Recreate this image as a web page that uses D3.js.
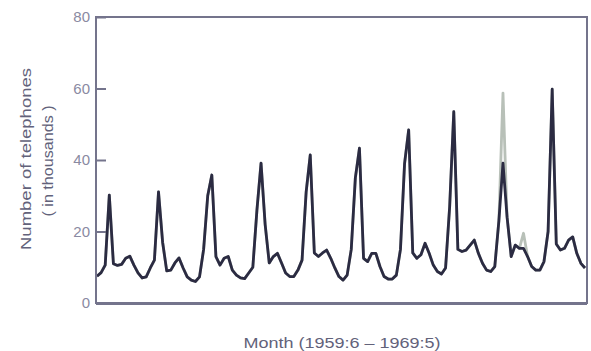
<!DOCTYPE html>
<html>
<head>
<meta charset="utf-8">
<script src="https://cdn.jsdelivr.net/npm/d3@7"></script>
<style>
    body { margin: 0; background: #fff; }
    svg { display: block; font-family: "Liberation Sans", Arial, sans-serif; }
    .frame { fill: none; stroke: #74748c; stroke-width: 2; }
    .tick text { fill: #8a8aa2; font-size: 15px; }
    .tick line { stroke: #74748c; stroke-width: 2; }
    .title { fill: #62627a; }
</style>
</head>
<body>
<svg id="chart" width="591" height="351"></svg>
<script>
"use strict";

// months 1959:6 .. 1969:5 (index 0..119)
var monthCount = 120;

// adjusted series (dark)
var adjusted = [
    7.5, 8.5, 10.6, 30.2, 11.0, 10.5, 10.8, 12.5, 13.1, 10.6, 8.4, 7.0,
    7.3, 9.8, 12.0, 31.1, 17.0, 9.0, 9.2, 11.2, 12.6, 9.8, 7.3, 6.4,
    6.0, 7.3, 15.0, 30.0, 35.8, 13.0, 10.6, 12.5, 13.0, 9.2, 7.8, 7.0,
    6.8, 8.4, 10.0, 26.0, 39.1, 22.0, 11.2, 13.0, 13.9, 11.2, 8.4, 7.4,
    7.4, 9.2, 12.0, 31.0, 41.4, 14.0, 13.0, 14.0, 14.8, 12.5, 9.8, 7.4,
    6.4, 7.8, 15.0, 35.0, 43.3, 12.5, 11.6, 13.9, 13.9, 10.2, 7.4, 6.7,
    6.7, 7.8, 15.0, 39.0, 48.4, 14.0, 12.5, 13.5, 16.7, 13.9, 10.6, 8.8,
    8.1, 9.8, 27.0, 53.5, 15.0, 14.4, 14.8, 16.2, 17.6, 13.9, 11.1, 9.2,
    8.8, 10.2, 23.0, 39.1, 24.0, 13.0, 16.2, 15.3, 15.3, 13.0, 10.2, 9.2,
    9.2, 11.6, 20.0, 59.8, 16.5, 14.8, 15.3, 17.6, 18.5, 13.9, 11.1, 9.8
];

// observed series (light), differs at the outliers
var observed = [
    7.5, 8.5, 10.6, 30.2, 11.0, 10.5, 10.8, 12.5, 13.1, 10.6, 8.4, 7.0,
    7.3, 9.8, 12.0, 31.1, 17.0, 9.0, 9.2, 11.2, 12.6, 9.8, 7.3, 6.4,
    6.0, 7.3, 15.0, 30.0, 35.8, 13.0, 10.6, 12.5, 13.0, 9.2, 7.8, 7.0,
    6.8, 8.4, 10.0, 26.0, 39.1, 22.0, 11.2, 13.0, 13.9, 11.2, 8.4, 7.4,
    7.4, 9.2, 12.0, 31.0, 41.4, 14.0, 13.0, 14.0, 14.8, 12.5, 9.8, 7.4,
    6.4, 7.8, 15.0, 35.0, 43.3, 12.5, 11.6, 13.9, 13.9, 10.2, 7.4, 6.7,
    6.7, 7.8, 15.0, 39.0, 48.4, 14.0, 12.5, 13.5, 16.7, 13.9, 10.6, 8.8,
    8.1, 9.8, 27.0, 53.5, 15.0, 14.4, 14.8, 16.2, 17.6, 13.9, 11.1, 9.2,
    8.8, 10.2, 23.0, 58.7, 24.0, 13.0, 16.2, 15.3, 19.5, 13.0, 10.2, 9.2,
    9.2, 11.6, 20.0, 59.8, 16.5, 14.8, 15.3, 17.6, 18.5, 13.9, 11.1, 9.8
];

var yTicks = [0, 20, 40, 60, 80];

var box = { left: 96, right: 587, top: 17, bottom: 303 };

var svg = d3.select("#chart");

var x = d3.scaleLinear()
    .domain([0, monthCount - 1])
    .range([97, 585]);

var y = d3.scaleLinear()
    .domain([0, 80])
    .range([box.bottom, box.top]);

// y axis, ticks pointing into the plot
var yAxis = d3.axisLeft(y)
    .tickValues(yTicks)
    .tickSizeInner(-10)
    .tickSizeOuter(0)
    .tickPadding(6);

var axisG = svg.append("g")
    .attr("transform", "translate(" + box.left + ",0)")
    .call(yAxis);
axisG.select(".domain").remove();
axisG.selectAll(".tick text").attr("font-family", null).attr("font-size", null);

var line = d3.line()
    .x(function (d, i) { return x(i); })
    .y(function (d) { return y(d); });

svg.append("path")
    .datum(observed)
    .attr("d", line)
    .attr("fill", "none")
    .attr("stroke", "#b8c0b8")
    .attr("stroke-width", 2.8)
    .attr("stroke-linejoin", "round");

svg.append("path")
    .datum(adjusted)
    .attr("d", line)
    .attr("fill", "none")
    .attr("stroke", "#2b2b42")
    .attr("stroke-width", 2.8)
    .attr("stroke-linejoin", "round");

// frame
svg.append("rect")
    .attr("class", "frame")
    .attr("x", box.left)
    .attr("y", box.top)
    .attr("width", box.right - box.left)
    .attr("height", box.bottom - box.top);

svg.append("line")
    .attr("x1", box.left)
    .attr("x2", box.right)
    .attr("y1", box.bottom + 0.5)
    .attr("y2", box.bottom + 0.5)
    .attr("stroke", "#74748c")
    .attr("stroke-width", 3);

// titles
svg.append("text")
    .attr("class", "title")
    .attr("transform", "translate(31,159) rotate(-90)")
    .attr("text-anchor", "middle")
    .attr("font-size", 15)
    .attr("textLength", 182)
    .attr("lengthAdjust", "spacingAndGlyphs")
    .text("Number of telephones");

svg.append("text")
    .attr("class", "title")
    .attr("transform", "translate(53,161) rotate(-90)")
    .attr("text-anchor", "middle")
    .attr("font-size", 15)
    .attr("textLength", 111)
    .attr("lengthAdjust", "spacingAndGlyphs")
    .text("( in thousands )");

svg.append("text")
    .attr("class", "title")
    .attr("x", 342)
    .attr("y", 348)
    .attr("text-anchor", "middle")
    .attr("font-size", 14)
    .attr("textLength", 197)
    .attr("lengthAdjust", "spacingAndGlyphs")
    .text("Month (1959:6 \u2013 1969:5)");
</script>
</body>
</html>
